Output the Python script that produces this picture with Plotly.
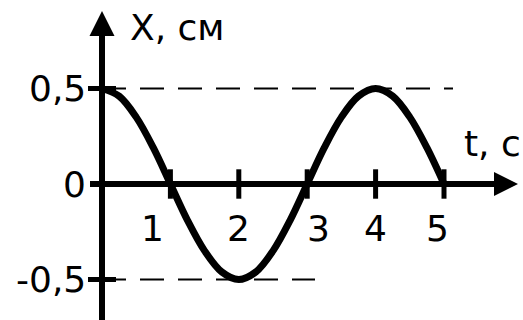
import plotly.graph_objects as go

# curve x(t) (t in s, x in cm)
t_vals = [0, 0.25, 0.5, 0.75, 1, 1.25, 1.5, 1.75, 2, 2.25, 2.5, 2.75, 3,
          3.25, 3.5, 3.75, 4, 4.25, 4.5, 4.75, 5]
x_vals = [0.5, 0.46, 0.35, 0.19, 0.0, -0.19, -0.35, -0.46, -0.5, -0.46, -0.35,
          -0.19, 0.0, 0.19, 0.35, 0.46, 0.5, 0.46, 0.35, 0.19, 0.0]

t_ticks = [1, 2, 3, 4, 5]
t_tick_labels = ['1', '2', '3', '4', '5']
x_ticks = [0.5, 0, -0.5]
x_tick_labels = ['0,5', '0', '-0,5']
amplitude = 0.5

W, H = 523, 320
# pixel layout of the drawing
X0_PX, PX_PER_T = 102, 68.4
Y0_PX, PX_PER_X = 184, 191


def t_at(px):
    return (px - X0_PX) / PX_PER_T


def x_at(py):
    return (Y0_PX - py) / PX_PER_X


FONT = dict(family='DejaVu Sans', size=36, color='black')
BLACK = 'black'

fig = go.Figure()

# dashed guides at +-amplitude
fig.add_trace(go.Scatter(x=[0, t_at(453)], y=[amplitude, amplitude], mode='lines',
                         line=dict(color=BLACK, width=2, dash='24px,14px')))
fig.add_trace(go.Scatter(x=[0, t_at(315)], y=[-amplitude, -amplitude], mode='lines',
                         line=dict(color=BLACK, width=2, dash='24px,14px')))

# axes
fig.add_trace(go.Scatter(x=[t_at(90), t_at(496)], y=[0, 0], mode='lines',
                         line=dict(color=BLACK, width=6)))
fig.add_trace(go.Scatter(x=[0, 0], y=[x_at(34), x_at(330)], mode='lines',
                         line=dict(color=BLACK, width=6)))

# tick marks
fig.add_trace(go.Scatter(x=t_ticks, y=[0] * len(t_ticks), mode='markers',
                         marker=dict(symbol='line-ns', size=21,
                                     line=dict(color=BLACK, width=5))))
fig.add_trace(go.Scatter(x=[0, 0], y=[amplitude, -amplitude], mode='markers',
                         marker=dict(symbol='line-ew', size=20,
                                     line=dict(color=BLACK, width=5))))

# curve
fig.add_trace(go.Scatter(x=t_vals, y=x_vals, mode='lines',
                         line=dict(color=BLACK, width=7, shape='spline',
                                   smoothing=1.0)))

# arrow heads
fig.add_trace(go.Scatter(x=[t_at(518)], y=[0], mode='markers',
                         marker=dict(symbol='arrow-right', size=24, color=BLACK,
                                     line=dict(width=0))))
fig.add_trace(go.Scatter(x=[0], y=[x_at(11)], mode='markers',
                         marker=dict(symbol='arrow-up', size=25, color=BLACK,
                                     line=dict(width=0))))

annotations = []
shifts = [-18, 0, 11, 0, -7]
for t, lab, dx in zip(t_ticks, t_tick_labels, shifts):
    annotations.append(dict(x=t, y=0, text=lab, showarrow=False, font=FONT,
                            xanchor='center', yanchor='middle',
                            xshift=dx, yshift=-44))
for v, lab in zip(x_ticks, x_tick_labels):
    annotations.append(dict(x=0, y=v, text=lab, showarrow=False, font=FONT,
                            xanchor='right', yanchor='middle',
                            xshift=-14, yshift=0))
annotations.append(dict(x=t_at(128), y=x_at(27), text='X, см', showarrow=False,
                        font=FONT, xanchor='left', yanchor='middle'))
annotations.append(dict(x=t_at(462), y=x_at(143), text='t, с', showarrow=False,
                        font=FONT, xanchor='left', yanchor='middle'))

fig.update_layout(
    width=W, height=H, autosize=False,
    margin=dict(l=0, r=0, t=0, b=0),
    paper_bgcolor='white', plot_bgcolor='white',
    showlegend=False,
    xaxis=dict(range=[t_at(0), t_at(W)], visible=False, fixedrange=True),
    yaxis=dict(range=[x_at(H), x_at(0)], visible=False, fixedrange=True),
    annotations=annotations,
)

fig.write_html('out.html', config={'displayModeBar': False},
               post_script="document.body.style.margin='0';"
                           "document.body.style.overflow='hidden';")
